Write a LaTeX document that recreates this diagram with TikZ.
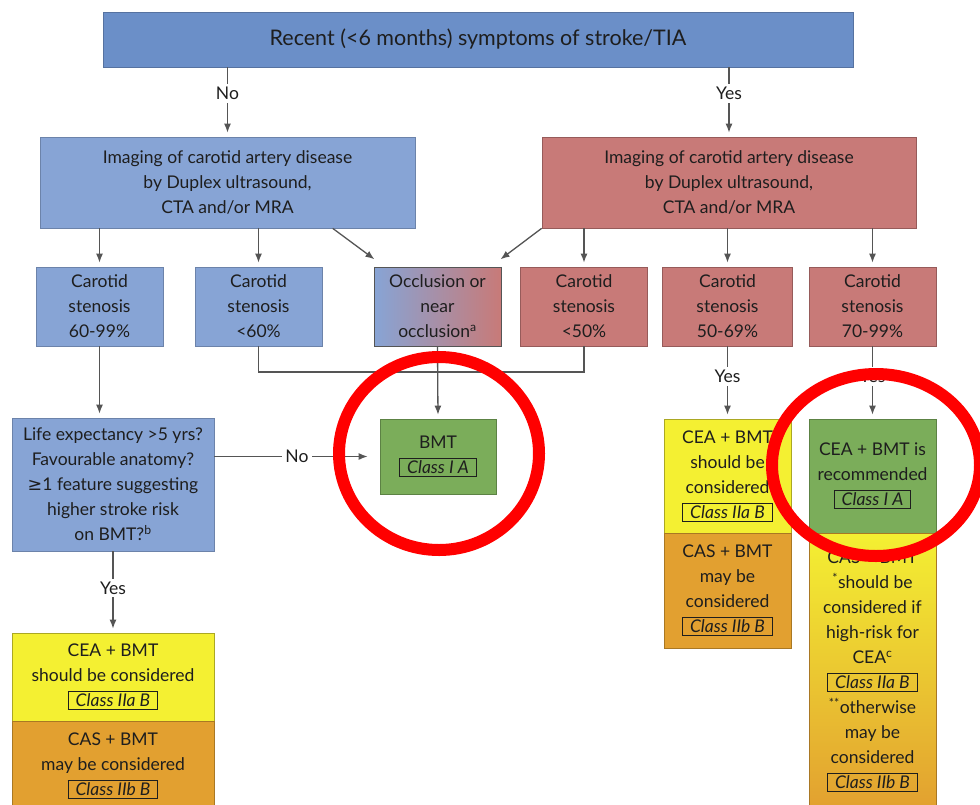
\documentclass[tikz,border=0pt]{standalone}
\usepackage{fontspec}
\setmainfont{Lato}
\newfontfamily\symfont{DejaVu Sans}
\usetikzlibrary{calc, arrows.meta}

\definecolor{topblue}{RGB}{107,143,200}
\definecolor{boxblue}{RGB}{135,164,213}
\definecolor{boxred}{RGB}{200,122,120}
\definecolor{boxgreen}{RGB}{123,173,90}
\definecolor{boxyellow}{RGB}{244,240,50}
\definecolor{boxorange}{RGB}{226,160,48}
\definecolor{ink}{RGB}{30,30,30}
\definecolor{linegray}{RGB}{85,85,85}

\setlength{\fboxsep}{2pt}
\setlength{\fboxrule}{0.8pt}
\newcommand{\classbox}[1]{\fbox{\hspace{5pt}\itshape #1\hspace{5pt}}}

\begin{document}
\begin{tikzpicture}
    [
        x = 1pt, y = -1pt,
        every node/.style = {font = \fontsize{17.5}{25}\selectfont, text = ink},
        panel/.style = {draw, align = center, inner sep = 0pt, line width = 0.7pt},
        topbox/.style = {panel, fill = topblue, draw = topblue!80!black},
        bluebox/.style = {panel, fill = boxblue, draw = boxblue!80!black},
        redbox/.style = {panel, fill = boxred, draw = boxred!75!black},
        greenbox/.style = {panel, fill = boxgreen, draw = boxgreen!75!black},
        yellowbox/.style = {panel, fill = boxyellow, draw = boxyellow!70!black},
        orangebox/.style = {panel, fill = boxorange, draw = boxorange!75!black},
        sten/.style = {minimum width = 127pt, minimum height = 79pt},
        link/.style = {draw = linegray, line width = 1.3pt, -{Latex[length = 9pt, width = 7pt]}, shorten > = 4pt},
        wire/.style = {draw = linegray, line width = 1.3pt},
        tag/.style = {fill = white, inner sep = 3pt},
        ring/.style = {draw = red, line width = 12pt}
    ]

    \useasboundingbox (0,0) rectangle (980,804);
    \clip (0,0) rectangle (980,804);
    \fill[white] (0,0) rectangle (980,804);

    % top question
    \node[topbox, minimum width = 750pt, minimum height = 55pt, font = \fontsize{21.5}{25}\selectfont] (top) at (478,39.5)
        {Recent (<6 months) symptoms of stroke/TIA};

    % imaging
    \node[bluebox, minimum width = 375pt, minimum height = 91pt] (imgL) at (227.5,182.5)
        {Imaging of carotid artery disease\\ by Duplex ultrasound,\\ CTA and/or MRA};
    \node[redbox, minimum width = 374pt, minimum height = 91pt] (imgR) at (729,182.5)
        {Imaging of carotid artery disease\\ by Duplex ultrasound,\\ CTA and/or MRA};

    % stenosis grades
    \node[bluebox, sten] (stA) at (99.5,306.5) {Carotid\\ stenosis\\ 60-99\%};
    \node[bluebox, sten] (stB) at (258.5,306.5) {Carotid\\ stenosis\\ <60\%};
    \node[panel, sten, left color = boxblue, right color = boxred, draw = linegray] (occl) at (437.5,306.5)
        {Occlusion or\\ near\\ occlusion\textsuperscript{a}};
    \node[redbox, sten] (stC) at (584,306.5) {Carotid\\ stenosis\\ <50\%};
    \node[redbox, sten, minimum width = 130pt] (stD) at (727.5,306.5) {Carotid\\ stenosis\\ 50-69\%};
    \node[redbox, sten] (stE) at (872.5,306.5) {Carotid\\ stenosis\\ 70-99\%};

    % outcomes
    \node[greenbox, minimum width = 116pt, minimum height = 75pt] (bmt) at (438,456.5)
        {BMT\\ \classbox{Class I A}};
    \node[bluebox, minimum width = 202pt, minimum height = 133pt] (life) at (113,484.5)
        {Life expectancy >5 yrs?\\ Favourable anatomy?\\ {\symfont ≥}1 feature suggesting\\ higher stroke risk\\ on BMT?\textsuperscript{b}};
    \node[yellowbox, minimum width = 202pt, minimum height = 88pt] (ceaL) at (113,677)
        {CEA + BMT\\ should be considered\\ \classbox{Class IIa B}};
    \node[orangebox, minimum width = 202pt, minimum height = 89pt] (casL) at (113,765.5)
        {CAS + BMT\\ may be considered\\ \classbox{Class IIb B}};

    \node[yellowbox, minimum width = 127pt, minimum height = 114pt] (ceaM) at (727.5,476)
        {CEA + BMT\\ should be\\ considered\\ \classbox{Class IIa B}};
    \node[orangebox, minimum width = 127pt, minimum height = 115pt] (casM) at (727.5,590.5)
        {CAS + BMT\\ may be\\ considered\\ \classbox{Class IIb B}};

    \node[greenbox, minimum width = 127pt, minimum height = 114pt] (ceaR) at (872.5,476)
        {CEA + BMT is\\ recommended\\ \classbox{Class I A}};
    \node[panel, top color = boxyellow, bottom color = boxorange, draw = boxorange!75!black,
          minimum width = 127pt, minimum height = 277pt] (casR) at (872.5,671.5)
        {CAS + BMT\\ \textsuperscript{*}should be\\ considered if\\ high-risk for\\ CEA\textsuperscript{c}\\
         \classbox{Class IIa B}\\ \textsuperscript{**}otherwise\\ may be\\ considered\\ \classbox{Class IIb B}};

    % connectors
    \draw[link] (top.south -| imgL) -- node[tag, pos = 0.38] {No} (imgL.north);
    \draw[link] (top.south -| imgR) -- node[tag, pos = 0.38] {Yes} (imgR.north);
    \foreach \n in {stA, stB}
        \draw[link] (imgL.south -| \n) -- (\n.north);
    \foreach \n in {stC, stD, stE}
        \draw[link] (imgR.south -| \n) -- (\n.north);
    \draw[link] ($(imgL.south west)!0.78!(imgL.south east)$) -- ($(occl.north west)+(4,-5)$);
    \draw[link] (imgR.south west) -- ($(occl.north east)+(-4,-5)$);

    \coordinate (merge) at (437.5,372);
    \draw[wire] (stB.south) |- (merge) -| (stC.south);
    \draw[link] (occl.south) -- (bmt.north);

    \draw[link] (stA.south) -- (stA.south |- life.north);
    \draw[link, shorten > = 12pt] (life.east |- bmt.west) -- node[tag, pos = 0.5] {No} (bmt.west);
    \draw[link] (life.south) -- node[tag, pos = 0.45] {Yes} (ceaL.north);
    \draw[link] (stD.south) -- node[tag, pos = 0.42] {Yes} (ceaM.north);
    \draw[link] (stE.south) -- node[tag, pos = 0.42] {Yes} (ceaR.north);

    % red marks
    \draw[ring] (439,453.5) ellipse [x radius = 100pt, y radius = 96.5pt];
    \draw[ring] (876,465) ellipse [x radius = 104pt, y radius = 91pt];
\end{tikzpicture}
\end{document}
